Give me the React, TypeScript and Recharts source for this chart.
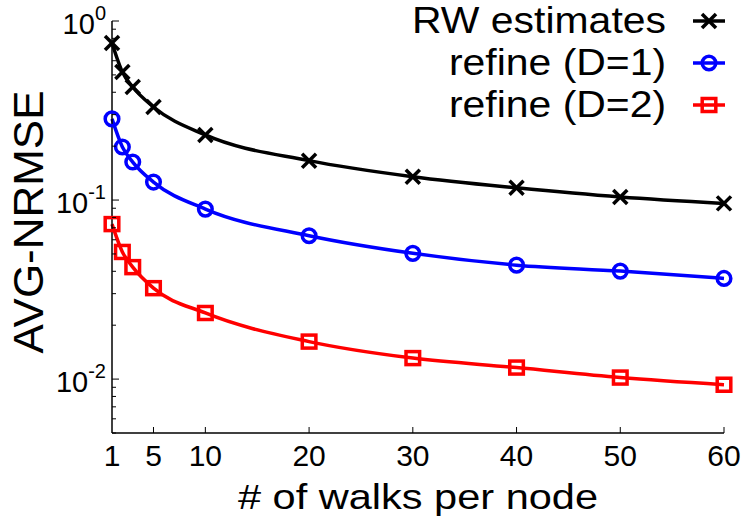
import React from 'react';
import { LineChart, Line, XAxis, YAxis, Legend } from 'recharts';

const walksPerNode = [1, 2, 3, 5, 10, 20, 30, 40, 50, 60];
const rwEstimates = [0.754, 0.519, 0.428, 0.331, 0.231, 0.166, 0.135, 0.117, 0.104, 0.0958];
const refineD1 = [0.284, 0.198, 0.163, 0.126, 0.089, 0.0632, 0.0504, 0.0433, 0.0401, 0.0365];
const refineD2 = [0.0734, 0.0513, 0.0422, 0.0322, 0.0234, 0.0162, 0.0131, 0.0116, 0.0102, 0.0093];

const xTicks = [1, 5, 10, 20, 30, 40, 50, 60];
const yTicks = [
  0.005, 0.006, 0.007, 0.008, 0.009,
  0.01, 0.02, 0.03, 0.04, 0.05, 0.06, 0.07, 0.08, 0.09,
  0.1, 0.2, 0.3, 0.4, 0.5, 0.6, 0.7, 0.8, 0.9,
  1,
];
const yMajor = [0.01, 0.1, 1];

const FONT = "'Liberation Sans', Arial, sans-serif";
const textStyle = { fontFamily: FONT };

const data = walksPerNode.map((x, i) => ({
  x,
  rw: rwEstimates[i],
  d1: refineD1[i],
  d2: refineD2[i],
}));

type MarkerKind = 'cross' | 'circle' | 'square';

const series: { key: string; name: string; color: string; marker: MarkerKind }[] = [
  { key: 'rw', name: 'RW estimates', color: '#000000', marker: 'cross' },
  { key: 'd1', name: 'refine (D=1)', color: '#0000ff', marker: 'circle' },
  { key: 'd2', name: 'refine (D=2)', color: '#ff0000', marker: 'square' },
];

const Marker = ({ kind, cx, cy, color }: { kind: MarkerKind; cx: number; cy: number; color: string }) => {
  if (kind === 'cross') {
    const h = 7;
    return (
      <g stroke={color} strokeWidth={3.5}>
        <line x1={cx - h} y1={cy - h} x2={cx + h} y2={cy + h} />
        <line x1={cx - h} y1={cy + h} x2={cx + h} y2={cy - h} />
      </g>
    );
  }
  if (kind === 'circle') {
    return <circle cx={cx} cy={cy} r={6.8} fill="none" stroke={color} strokeWidth={3.5} />;
  }
  return <rect x={cx - 6.8} y={cy - 6.5} width={13.6} height={13} fill="none" stroke={color} strokeWidth={3.5} />;
};

const XTick = (props: any) => {
  const { x, y, payload } = props;
  return (
    <g>
      {payload.value !== 1 && <line x1={x} y1={y} x2={x} y2={y - 6} stroke="#000" strokeWidth={1} />}
      <text x={x} y={y + 33} textAnchor="middle" style={textStyle} fontSize={30} fill="#000">
        {payload.value}
      </text>
    </g>
  );
};

const YTick = (props: any) => {
  const { x, y, payload } = props;
  const major = yMajor.includes(payload.value);
  const exp = Math.round(Math.log10(payload.value));
  return (
    <g>
      <line x1={x} y1={y} x2={x + (major ? 7 : 4)} y2={y} stroke="#000" strokeWidth={1} />
      {major && (
        <text x={x - 6} y={y + 13} textAnchor="end" style={textStyle} fontSize={29} fill="#000">
          <tspan>10</tspan>
          <tspan dy={-14} fontSize={20}>{exp}</tspan>
        </text>
      )}
    </g>
  );
};

const LegendBox = () => (
  <svg width={750} height={130}>
    {series.map((s, i) => {
      const cy = 21 + i * 42;
      return (
        <g key={s.key}>
          <text
            x={666}
            y={cy + 12}
            textAnchor="end"
            style={textStyle}
            fontSize={36}
            fill="#000"
            textLength={i === 0 ? 254 : 217}
            lengthAdjust="spacingAndGlyphs"
          >
            {s.name}
          </text>
          <line x1={693} y1={cy} x2={725} y2={cy} stroke={s.color} strokeWidth={3.5} />
          <Marker kind={s.marker} cx={709} cy={cy} color={s.color} />
        </g>
      );
    })}
  </svg>
);

const XLabel = (props: any) => {
  const { viewBox } = props;
  return (
    <text
      x={viewBox.x + viewBox.width / 2}
      y={509}
      textAnchor="middle"
      style={textStyle}
      fontSize={35}
      fill="#000"
      textLength={360}
      lengthAdjust="spacingAndGlyphs"
    >
      # of walks per node
    </text>
  );
};

const YLabel = () => (
  <text
    transform="translate(43,222) rotate(-90)"
    textAnchor="middle"
    style={textStyle}
    fontSize={43}
    fill="#000"
    textLength={263}
    lengthAdjust="spacingAndGlyphs"
  >
    AVG-NRMSE
  </text>
);

export default function App() {
  return (
    <div style={{ position: 'absolute', left: 0, top: 0, background: '#fff', fontFamily: FONT }}>
      <LineChart width={750} height={525} data={data} margin={{ top: 21, right: 26, bottom: 0, left: 0 }}>
        <XAxis
          dataKey="x"
          type="number"
          domain={[1, 60]}
          ticks={xTicks}
          height={92}
          tickSize={0}
          tickMargin={0}
          tickLine={false}
          axisLine={{ stroke: '#000', strokeWidth: 1.5 }}
          tick={<XTick />}
          label={<XLabel />}
          interval={0}
        />
        <YAxis
          type="number"
          scale="log"
          domain={[0.005, 1]}
          allowDataOverflow
          ticks={yTicks}
          width={112}
          tickSize={0}
          tickMargin={0}
          tickLine={false}
          axisLine={{ stroke: '#000', strokeWidth: 1.5 }}
          tick={<YTick />}
          label={<YLabel />}
          interval={0}
        />
        {series.map((s) => (
          <Line
            key={s.key}
            dataKey={s.key}
            name={s.name}
            type="monotoneX"
            stroke={s.color}
            strokeWidth={3.5}
            isAnimationActive={false}
            activeDot={false}
            dot={(p: any) => <Marker key={`${s.key}-${p.index}`} kind={s.marker} cx={p.cx} cy={p.cy} color={s.color} />}
          />
        ))}
        <Legend
          layout="vertical"
          align="center"
          verticalAlign="middle"
          wrapperStyle={{ left: 0, top: 0, width: 750, height: 130 }}
          content={<LegendBox />}
        />
      </LineChart>
    </div>
  );
}
